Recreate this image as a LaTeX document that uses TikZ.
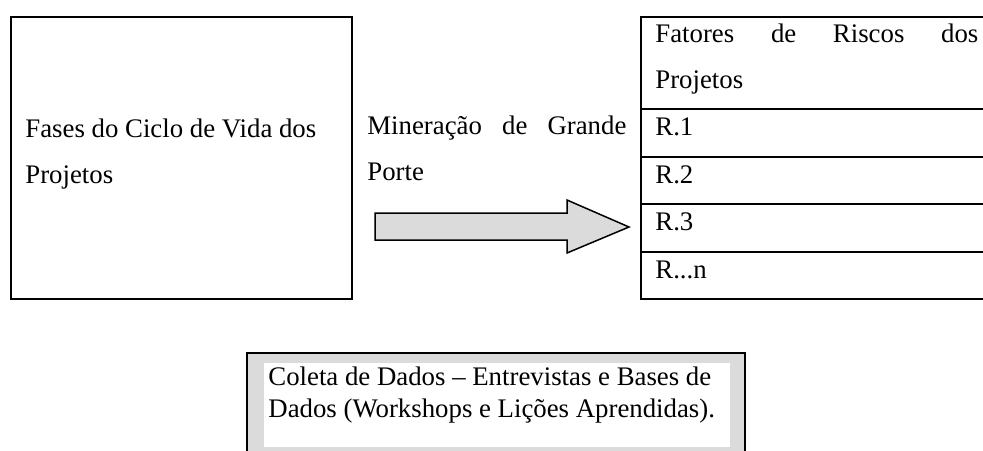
\documentclass[tikz,border=0pt]{standalone}
\usepackage{fontspec}
\setmainfont{Liberation Serif}
\usepackage{tikz}

\begin{document}
\begin{tikzpicture}[x=0.5pt, y=-0.5pt,
    caixa/.style={draw, line width=1pt, inner sep=0pt},
    rotulo/.style={anchor=base west, align=left, inner sep=0pt,
      font=\fontsize{13.4pt}{23pt}\selectfont}]
    \useasboundingbox (0, 0) rectangle (983, 450);
    \clip (0, 0) rectangle (983, 450);
    % caixas
    \node [caixa, minimum width=170.5pt, minimum height=141pt] (fases) at (181.5, 158) {};
    \node [caixa, minimum width=180pt, minimum height=46pt] (fatores) at (821, 63) {};
    \node [caixa, minimum width=180pt, minimum height=24pt] (r1) at (821, 133) {};
    \node [caixa, minimum width=180pt, minimum height=23.5pt] (r2) at (821, 180.5) {};
    \node [caixa, minimum width=180pt, minimum height=24pt] (r3) at (821, 228) {};
    \node [caixa, minimum width=180pt, minimum height=23.5pt] (rn) at (821, 275.5) {};
    \node [caixa, fill=black!14, minimum width=249pt, minimum height=60pt] (coleta) at (496, 413) {};
    \node [fill=white, inner sep=0pt, minimum width=233pt, minimum height=42pt] (coletain) at (497, 405) {};
    % textos (base = ultima linha)
    \node [rotulo] (tfases) at (25, 183) {Fases do Ciclo de Vida dos\\Projetos};
    \node [rotulo] (tminer) at (367, 180) {\makebox[129.5pt][s]{Mineração de Grande}\\Porte};
    \node [rotulo] (tfatores) at (655, 88) {\makebox[161.5pt][s]{Fatores de Riscos dos}\\Projetos};
    \node [rotulo] (tr1) at (655, 135) {R.1};
    \node [rotulo] (tr2) at (655, 183) {R.2};
    \node [rotulo] (tr3) at (655, 230) {R.3};
    \node [rotulo] (trn) at (655, 278) {R...n};
    \node [rotulo, font=\fontsize{13.4pt}{16pt}\selectfont] (tcoleta) at (268, 417)
      {Coleta de Dados – Entrevistas e Bases de\\Dados (Workshops e Lições Aprendidas).};
    % seta
    \draw [fill=black!14, line width=0.75pt, line join=miter]
      (375, 213) -- (567, 213) -- (567, 200) -- (629, 227) -- (567, 253) -- (567, 240) -- (375, 240) -- cycle;
  \end{tikzpicture}
\end{document}
